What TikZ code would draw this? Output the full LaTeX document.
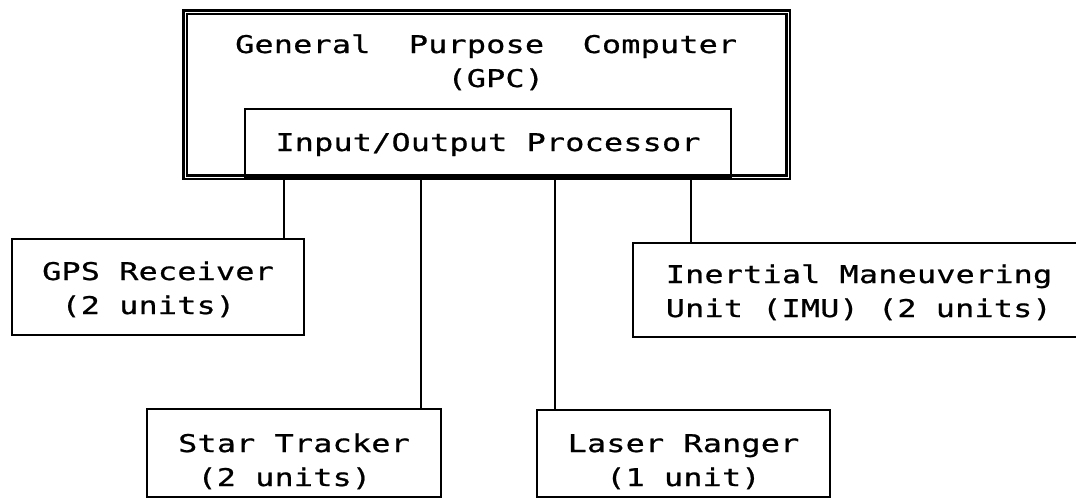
\documentclass[tikz,border=0pt]{standalone}
\usepackage{fontspec}
\newfontfamily\plotfont[FakeStretch=1.3,FakeBold=0.8,LetterSpace=1]{DejaVu Sans Mono}
\newlength\plotadv
\setlength\plotadv{19.3pt}
\newcommand\lead[1]{\hspace*{#1\plotadv}}

\tikzset{
  plottext/.style={font=\plotfont\fontsize{24.4}{34}\selectfont},
  unitbox/.style={draw,line width=1.8pt,plottext,align=left,anchor=north west,
    inner xsep=0pt,inner ysep=0pt,outer sep=0pt},
  gpcbox/.style={draw,double,line width=2.4pt,double distance=0.4pt,
    anchor=north west,inner sep=0pt,outer sep=0pt},
  link/.style={line width=1.6pt}
}

\begin{document}
\begin{tikzpicture}[x=1pt,y=-1pt]
\useasboundingbox (0,0) rectangle (1076,499);

% computer and its processor
\node[gpcbox,minimum width=603,minimum height=165] (gpc) at (185,12) {};
\node[plottext,align=left,anchor=base west,inner sep=0pt] (gpctitle) at (235,87)
  {General\lead{2}Purpose\lead{2}Computer\\\lead{11}(GPC)};
\node[unitbox,minimum width=486,text height=42,text depth=26] (iop) at (245,109)
  {Input/Output Processor};

% units
\node[unitbox,minimum width=292,text height=75,text depth=21] (gps) at (12,239)
  {GPS Receiver\\\lead{1}(2 units)};
\node[unitbox,minimum width=452,text height=74,text depth=20] (imu) at (633,243)
  {Inertial Maneuvering\\Unit (IMU) (2 units)};
\node[unitbox,minimum width=294,text height=77,text depth=11] (star) at (147,409)
  {Star Tracker\\\lead{1}(2 units)};
\node[unitbox,minimum width=293,text height=76,text depth=11] (laser) at (537,410)
  {Laser Ranger\\\lead{2}(1 unit)};

% buses
\foreach \tgt/\dx/\corner in {gps/-20/north east,star/-20/north east,
    laser/18/north west,imu/58/north west}
  \draw[link] ([xshift=\dx pt]\tgt.\corner) -- ([xshift=\dx pt]\tgt.\corner |- iop.south);
\end{tikzpicture}
\end{document}
